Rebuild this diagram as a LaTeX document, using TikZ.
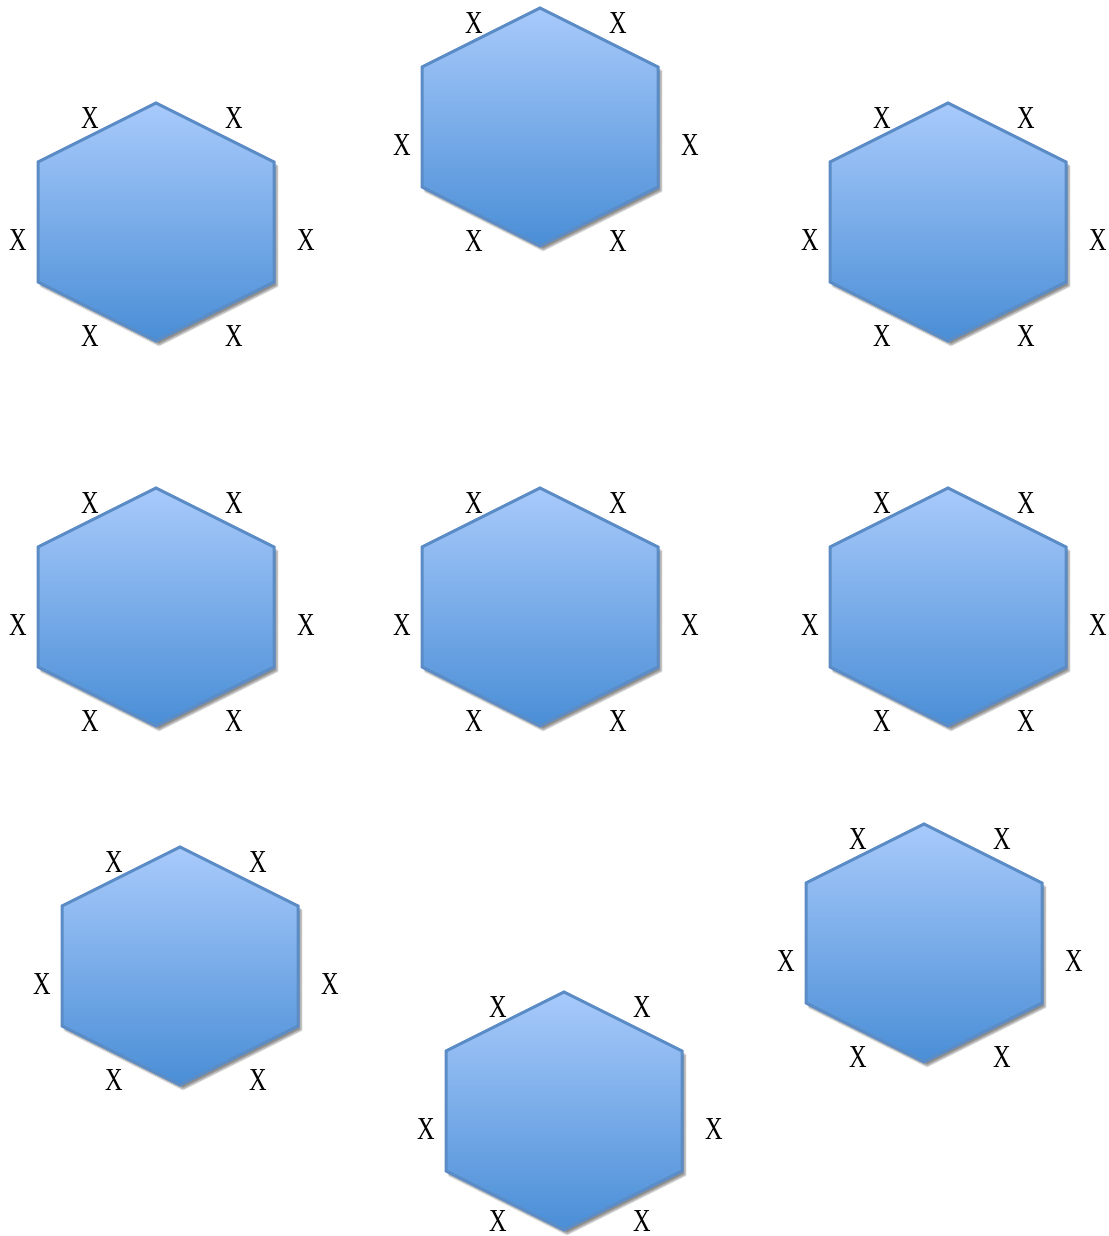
\documentclass[tikz,border=0pt]{standalone}
\usepackage{fontspec}
\setmainfont{Liberation Serif}
\usetikzlibrary{shadows.blur}
\definecolor{hextop}{HTML}{A8CAFB}
\definecolor{hexbot}{HTML}{4A8ED6}
\definecolor{hexline}{HTML}{5B8CC6}
\tikzset{
  hexshape/.style={draw=hexline, line width=3pt, line join=miter,
    top color=hextop, bottom color=hexbot,
    blur shadow={shadow xshift=3pt, shadow yshift=-4pt, shadow blur steps=6, shadow opacity=45}},
  xlab/.style={font=\fontsize{32}{34}\selectfont, inner sep=0pt, text=black}
}
\newcommand{\xmark}{\scalebox{0.76}[1]{X}}
\begin{document}
\begin{tikzpicture}[x=1pt,y=-1pt]
\useasboundingbox (0,0) rectangle (1108,1236);
\foreach \cx/\cy/\n/\b in {156/222/a/114, 540/127/b/114, 948/222/c/114, 156/607/d/114, 540/607/e/114, 948/607/f/114, 180/966/g/114, 564/1111/h/110, 924/943/i/114}{
  \coordinate (\n) at (\cx,\cy);
  \path[hexshape] ($(\n)+(0,-119)$) -- ($(\n)+(118,-60)$) -- ($(\n)+(118,60)$) -- ($(\n)+(0,119)$) -- ($(\n)+(-118,60)$) -- ($(\n)+(-118,-60)$) -- cycle;
  \node[xlab] (\n-1) at ($(\n)+(-66,-104)$) {\xmark};
  \node[xlab] (\n-2) at ($(\n)+(78,-104)$) {\xmark};
  \node[xlab] (\n-3) at ($(\n)+(-138,18)$) {\xmark};
  \node[xlab] (\n-4) at ($(\n)+(150,18)$) {\xmark};
  \node[xlab] (\n-5) at ($(\n)+(-66,\b)$) {\xmark};
  \node[xlab] (\n-6) at ($(\n)+(78,\b)$) {\xmark};
}
\end{tikzpicture}
\end{document}
